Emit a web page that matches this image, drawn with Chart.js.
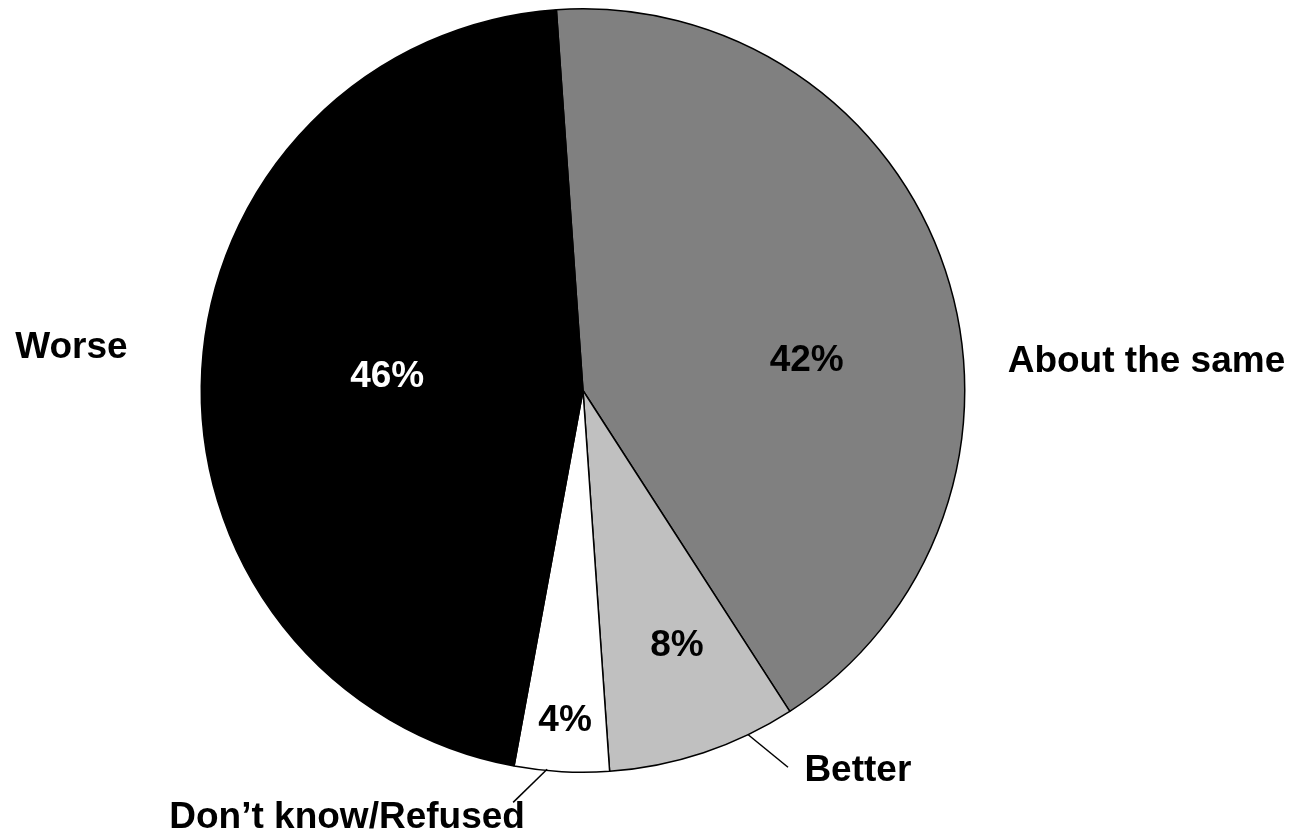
<!DOCTYPE html>
<html lang="en">
<head>
    <meta charset="UTF-8">
    <title>Opinion Pie</title>
    <script src="https://cdn.jsdelivr.net/npm/chart.js"></script>
    <style>
        body { margin: 0; background: #fff; }
        #wrap { width: 1295px; height: 835px; position: relative; }
    </style>
</head>
<body>

    <div id="wrap"><canvas id="pieChart"></canvas></div>

    <script>
        // values, clockwise from the top
        const categories = ["About the same", "Better", "Don\u2019t know/Refused", "Worse"];
        const values = [42, 8, 4, 46];
        const sliceColors = ["#808080", "#c0c0c0", "#ffffff", "#000000"];
        const valueColors = ["#000", "#000", "#000", "#fff"];

        // label positions, in units of the pie radius from its centre
        const valuePos = [[0.586, -0.079], [0.246, 0.668], [-0.047, 0.866], [-0.513, -0.037]];
        const namePos = [[1.476, -0.076], [0.720, 0.997], [-0.618, 1.120], [-1.340, -0.113]];
        const leaders = [null, [[0.432, 0.901], [0.537, 0.987]], [[-0.094, 0.992], [-0.183, 1.079]], null];

        const labelFont = "bold 37px 'Liberation Sans', Arial, sans-serif";

        const pieLabels = {
            id: "pieLabels",
            afterDatasetsDraw(chart) {
                const ctx = chart.ctx;
                const arcs = chart.getDatasetMeta(0).data;
                ctx.save();
                ctx.font = labelFont;
                ctx.textAlign = "center";
                ctx.textBaseline = "middle";
                arcs.forEach((arc, i) => {
                    const { x, y, outerRadius: r } = arc.getProps(["x", "y", "outerRadius"], true);
                    ctx.fillStyle = valueColors[i];
                    ctx.fillText(values[i] + "%", x + valuePos[i][0] * r, y + valuePos[i][1] * r);
                    ctx.fillStyle = "#000";
                    ctx.fillText(categories[i], x + namePos[i][0] * r, y + namePos[i][1] * r);
                    if (leaders[i]) {
                        ctx.strokeStyle = "#000";
                        ctx.lineWidth = 1.5;
                        ctx.beginPath();
                        ctx.moveTo(x + leaders[i][0][0] * r, y + leaders[i][0][1] * r);
                        ctx.lineTo(x + leaders[i][1][0] * r, y + leaders[i][1][1] * r);
                        ctx.stroke();
                    }
                });
                ctx.restore();
            }
        };

        new Chart(document.getElementById("pieChart"), {
            type: "pie",
            data: {
                labels: categories,
                datasets: [{
                    data: values,
                    backgroundColor: sliceColors,
                    borderColor: "#000",
                    borderWidth: 1.5
                }]
            },
            options: {
                responsive: true,
                maintainAspectRatio: false,
                animation: false,
                rotation: -4,
                layout: { padding: { top: 8, bottom: 62, left: 200, right: 329 } },
                plugins: {
                    legend: { display: false },
                    tooltip: { enabled: false }
                }
            },
            plugins: [pieLabels]
        });
    </script>

</body>
</html>
